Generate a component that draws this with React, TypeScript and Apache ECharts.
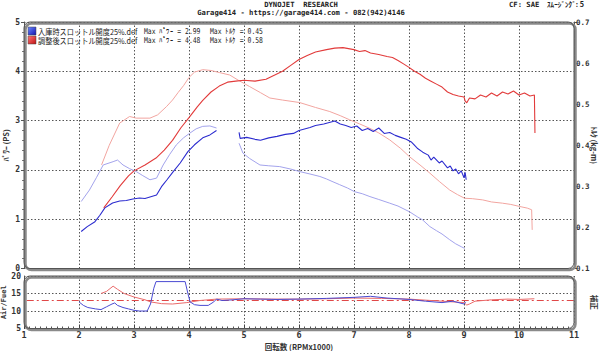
import React, { useEffect, useRef } from "react";
import * as echarts from "echarts";

// ---------- data ----------
const beforeName = "入庫時スロットル開度25%.def";
const afterName = "調整後スロットル開度25%.def";
const beforeMaxPower = "2.99";
const beforeMaxTorque = "0.45";
const afterMaxPower = "4.48";
const afterMaxTorque = "0.58";

// power (PS) vs rpm x1000 — before tuning (two runs with a gap)
const beforePowerA: [number, number][] = [
  [2.04, 0.75], [2.15, 0.85], [2.29, 0.95], [2.38, 1.08], [2.47, 1.23], [2.61, 1.33],
  [2.74, 1.37], [2.86, 1.38], [2.98, 1.41], [3.1, 1.43], [3.2, 1.42], [3.29, 1.45],
  [3.41, 1.49], [3.5, 1.66], [3.6, 1.8], [3.71, 1.96], [3.84, 2.14], [3.98, 2.37],
  [4.1, 2.51], [4.25, 2.65], [4.38, 2.71], [4.5, 2.8],
];
const beforePowerB: [number, number][] = [
  [4.91, 2.76], [4.93, 2.64], [5.05, 2.66], [5.2, 2.62], [5.3, 2.6], [5.45, 2.65],
  [5.6, 2.68], [5.75, 2.72], [5.9, 2.74], [6.0, 2.8], [6.1, 2.83], [6.2, 2.86],
  [6.3, 2.9], [6.45, 2.93], [6.55, 2.96], [6.65, 2.99], [6.75, 2.93], [6.85, 2.9],
  [6.95, 2.86], [7.05, 2.89], [7.15, 2.8], [7.25, 2.84], [7.35, 2.78], [7.45, 2.85],
  [7.55, 2.74], [7.65, 2.76], [7.75, 2.7], [7.85, 2.66], [7.95, 2.62], [8.05, 2.56],
  [8.15, 2.44], [8.25, 2.36], [8.35, 2.3], [8.4, 2.2], [8.45, 2.26], [8.55, 2.14],
  [8.6, 2.18], [8.7, 2.04], [8.75, 2.08], [8.8, 1.98], [8.85, 2.02], [8.9, 1.92],
  [8.95, 1.98], [9.0, 1.84], [9.02, 1.95], [9.04, 1.8],
];
// power after tuning
const afterPower: [number, number][] = [
  [2.45, 1.23], [2.6, 1.45], [2.75, 1.68], [2.9, 1.88], [3.0, 1.98], [3.2, 2.1],
  [3.4, 2.24], [3.55, 2.4], [3.7, 2.6], [3.85, 2.85], [4.0, 3.06], [4.15, 3.28],
  [4.25, 3.41], [4.4, 3.58], [4.55, 3.7], [4.7, 3.78], [4.85, 3.8], [5.0, 3.82],
  [5.2, 3.8], [5.4, 3.84], [5.55, 3.92], [5.7, 4.0], [5.85, 4.12], [6.0, 4.24],
  [6.15, 4.32], [6.3, 4.39], [6.5, 4.44], [6.65, 4.47], [6.8, 4.48], [6.9, 4.46],
  [7.0, 4.44], [7.1, 4.4], [7.2, 4.42], [7.3, 4.37], [7.45, 4.34], [7.6, 4.3],
  [7.7, 4.28], [7.8, 4.22], [7.9, 4.15], [8.0, 4.08], [8.1, 4.0], [8.2, 3.94],
  [8.3, 3.86], [8.4, 3.8], [8.5, 3.74], [8.6, 3.68], [8.7, 3.58], [8.8, 3.53],
  [8.9, 3.5], [9.0, 3.48], [9.02, 3.4], [9.05, 3.36], [9.1, 3.46], [9.2, 3.44],
  [9.3, 3.52], [9.4, 3.48], [9.5, 3.56], [9.6, 3.5], [9.7, 3.58], [9.8, 3.54],
  [9.9, 3.6], [10.0, 3.52], [10.1, 3.56], [10.2, 3.5], [10.28, 3.52], [10.29, 2.75],
];

// torque (kg-m)
const beforeTorqueA: [number, number][] = [
  [2.04, 0.263], [2.19, 0.291], [2.32, 0.322], [2.44, 0.352], [2.62, 0.36], [2.7, 0.364],
  [2.8, 0.352], [2.92, 0.343], [3.04, 0.336], [3.16, 0.326], [3.29, 0.316], [3.41, 0.32],
  [3.53, 0.352], [3.65, 0.378], [3.77, 0.401], [3.9, 0.418], [4.01, 0.429], [4.13, 0.44],
  [4.25, 0.446], [4.38, 0.447], [4.5, 0.442],
];
const beforeTorqueB: [number, number][] = [
  [4.91, 0.405], [4.98, 0.381], [5.1, 0.368], [5.29, 0.352], [5.45, 0.35], [5.65, 0.348],
  [5.85, 0.342], [6.01, 0.336], [6.2, 0.33], [6.38, 0.324], [6.5, 0.318], [6.6, 0.312],
  [6.74, 0.304], [6.88, 0.296], [7.01, 0.287], [7.15, 0.282], [7.29, 0.275], [7.45, 0.268],
  [7.65, 0.259], [7.8, 0.252], [8.01, 0.238], [8.15, 0.226], [8.25, 0.218], [8.38, 0.202],
  [8.5, 0.192], [8.6, 0.184], [8.74, 0.17], [8.85, 0.16], [8.95, 0.153], [9.01, 0.149],
];
const afterTorque: [number, number][] = [
  [2.41, 0.352], [2.55, 0.4], [2.74, 0.454], [2.92, 0.47], [3.04, 0.466], [3.29, 0.466],
  [3.43, 0.474], [3.59, 0.494], [3.7, 0.51], [3.8, 0.528], [3.9, 0.545], [4.0, 0.565],
  [4.1, 0.578], [4.25, 0.584], [4.4, 0.582], [4.55, 0.577], [4.74, 0.571], [4.9, 0.558],
  [5.1, 0.543], [5.3, 0.528], [5.47, 0.515], [5.7, 0.51], [6.01, 0.504], [6.3, 0.492],
  [6.56, 0.482], [6.75, 0.472], [6.92, 0.462], [7.1, 0.452], [7.29, 0.441], [7.45, 0.43],
  [7.65, 0.413], [7.85, 0.392], [8.01, 0.372], [8.2, 0.352], [8.38, 0.332], [8.55, 0.312],
  [8.74, 0.291], [8.88, 0.28], [9.01, 0.271], [9.15, 0.27], [9.34, 0.267], [9.5, 0.262],
  [9.7, 0.259], [9.85, 0.256], [10.01, 0.251], [10.15, 0.247], [10.23, 0.243], [10.24, 0.194],
];

// air/fuel ratio
const beforeAfr: [number, number][] = [
  [2.0, 12.6], [2.08, 11.6], [2.16, 11.0], [2.3, 10.6], [2.4, 10.4], [2.5, 11.2],
  [2.6, 12.0], [2.65, 12.3], [2.7, 11.6], [2.8, 11.0], [2.9, 10.6], [3.0, 10.2],
  [3.1, 10.0], [3.24, 10.0], [3.3, 12.0], [3.36, 16.5], [3.4, 18.4], [3.93, 18.4],
  [3.98, 15.0], [4.02, 12.6], [4.1, 11.8], [4.2, 11.6], [4.35, 11.6], [4.45, 12.6],
  [4.5, 13.4], [4.6, 13.0], [4.8, 13.2], [5.0, 13.5], [5.3, 13.4], [5.6, 13.3],
  [6.0, 13.4], [6.5, 13.6], [7.0, 13.9], [7.3, 14.2], [7.6, 13.7], [8.0, 13.3],
  [8.3, 12.8], [8.6, 12.4], [8.8, 12.8], [9.0, 12.0], [9.03, 12.6],
];
const afterAfr: [number, number][] = [
  [2.4, 15.0], [2.5, 15.6], [2.62, 17.1], [2.7, 16.2], [2.82, 15.0], [3.0, 14.0],
  [3.2, 13.2], [3.3, 12.6], [3.5, 12.1], [3.7, 12.0], [3.96, 12.4], [4.2, 13.0],
  [4.5, 13.4], [5.0, 13.5], [5.5, 13.4], [6.0, 13.4], [6.5, 13.5], [7.0, 13.7],
  [7.5, 13.6], [8.0, 13.4], [8.5, 12.9], [8.8, 12.6], [9.0, 12.4], [9.05, 11.7],
  [9.1, 12.0], [9.2, 12.8], [9.5, 13.2], [9.8, 13.4], [10.0, 13.3], [10.28, 13.5],
];
const targetAfr = 13;
const rpmRange = [1, 11];

// ---------- styles ----------
const darkBlue = "#2b2bcf";
const lightBlue = "#a3a3ec";
const darkRed = "#e23b3b";
const lightRed = "#f2a5a0";
const gridLineColor = "#555";
const labelStyle = {
  color: "#333",
  fontFamily: "DejaVu Sans Mono",
  fontWeight: "bold" as const,
  fontSize: 8,
};
const nameStyle = {
  color: "#333",
  fontFamily: "Noto Sans CJK JP",
  fontWeight: "bold" as const,
  fontSize: 7.5,
};
const dotted = { show: true, lineStyle: { color: gridLineColor, type: [1.5, 2], width: 1 } };

function lineSeries(name: string, data: [number, number][], color: string, xi: number, yi: number, width = 1) {
  return {
    type: "line",
    name,
    data,
    xAxisIndex: xi,
    yAxisIndex: yi,
    symbol: "none",
    lineStyle: { color, width },
    itemStyle: { color },
    z: 5,
  };
}

function boxes() {
  const mk = (x: number, y: number, w: number, h: number) => [
    {
      type: "rect",
      shape: { x: x + 1.5, y: y + 1.5, width: w, height: h, r: 6 },
      style: { fill: "none", stroke: "#8a8a8a", lineWidth: 2.5 },
      z: 20,
      silent: true,
    },
    {
      type: "rect",
      shape: { x, y, width: w, height: h, r: 6 },
      style: { fill: "none", stroke: "#555", lineWidth: 1 },
      z: 21,
      silent: true,
    },
  ];
  return [...mk(24, 22, 550, 246.5), ...mk(24, 276, 550, 52.5)];
}

function swatch(y: number, c1: string, c2: string) {
  return {
    type: "rect",
    shape: { x: 28, y, width: 8, height: 8 },
    style: {
      fill: new echarts.graphic.LinearGradient(0, 0, 1, 1, [
        { offset: 0, color: c1 },
        { offset: 1, color: c2 },
      ]),
      stroke: "#444",
      lineWidth: 0.5,
    },
    z: 30,
  };
}

function txt(x: number, y: number, text: string, extra: any = {}, scaleX = 1) {
  return {
    type: "text",
    x,
    y,
    scaleX,
    z: 30,
    style: {
      text,
      fill: "#222",
      fontSize: 8,
      fontFamily: "Noto Sans CJK JP",
      verticalAlign: "middle",
      ...extra,
    },
  };
}

export default function App() {
  const ref = useRef<HTMLDivElement>(null);
  useEffect(() => {
    const chart = echarts.init(ref.current!, null, { renderer: "svg" });
    const header = { fontFamily: "DejaVu Sans Mono", fontWeight: "bold", fontSize: 7.2, fill: "#222" };
    const maxStyle = { fontFamily: "DejaVu Sans Mono", fontSize: 8 };
    chart.setOption({
      animation: false,
      backgroundColor: "#fff",
      grid: [
        { left: 24, top: 22, width: 550, height: 246.5, outerBoundsMode: "none", containLabel: false },
        { left: 24, top: 276, width: 550, height: 52.5, outerBoundsMode: "none", containLabel: false },
      ],
      xAxis: [
        {
          type: "value",
          gridIndex: 0,
          min: rpmRange[0],
          max: rpmRange[1],
          interval: 1,
          axisLabel: { show: false },
          axisLine: { show: false },
          axisTick: { show: false },
          splitLine: dotted,
        },
        {
          type: "value",
          gridIndex: 1,
          min: rpmRange[0],
          max: rpmRange[1],
          interval: 1,
          axisLabel: { ...labelStyle, fontSize: 8.5, margin: 2 },
          axisLine: { show: false },
          axisTick: { show: true, inside: true, length: 4, lineStyle: { color: "#444" } },
          minorTick: { show: true, splitNumber: 10, length: 2, lineStyle: { color: "#555" } },
          splitLine: dotted,
          name: "回転数 (RPMx1000)",
          nameLocation: "middle",
          nameGap: 14,
          nameMoveOverlap: false,
          nameTextStyle: nameStyle,
        },
      ],
      yAxis: [
        {
          type: "value",
          gridIndex: 0,
          position: "left",
          min: 0,
          max: 5,
          interval: 1,
          axisLabel: { ...labelStyle, margin: 4 },
          axisLine: { show: true, lineStyle: { color: "#555" } },
          axisTick: { show: true, length: 3, lineStyle: { color: "#555" } },
          minorTick: { show: true, splitNumber: 5, length: 2, lineStyle: { color: "#777" } },
          splitLine: dotted,
          name: "ﾊﾟﾜｰ (PS)",
          nameLocation: "middle",
          nameRotate: 90,
          nameGap: 15,
          nameMoveOverlap: false,
          nameTextStyle: nameStyle,
        },
        {
          type: "value",
          gridIndex: 0,
          position: "right",
          min: 0.1,
          max: 0.7,
          interval: 0.1,
          axisLabel: { ...labelStyle, fontSize: 7.5, margin: 2, formatter: (v: number) => v.toFixed(1) },
          axisLine: { show: true, lineStyle: { color: "#555" } },
          axisTick: { show: true, length: 3, lineStyle: { color: "#555" } },
          minorTick: { show: true, splitNumber: 5, length: 2, lineStyle: { color: "#777" } },
          splitLine: { show: false },
          name: "ﾄﾙｸ (kg-m)",
          nameLocation: "middle",
          nameRotate: -90,
          nameGap: 16.5,
          nameMoveOverlap: false,
          nameTextStyle: nameStyle,
        },
        {
          type: "value",
          gridIndex: 1,
          position: "left",
          min: 5,
          max: 20,
          interval: 5,
          axisLabel: { ...labelStyle, margin: 3 },
          axisLine: { show: true, lineStyle: { color: "#555" } },
          axisTick: { show: false },
          splitLine: dotted,
          name: "Air/Fuel",
          nameLocation: "middle",
          nameRotate: 90,
          nameGap: 17,
          nameMoveOverlap: false,
          nameTextStyle: { ...nameStyle, fontFamily: "DejaVu Sans Mono", fontSize: 7 },
        },
        {
          type: "value",
          gridIndex: 1,
          position: "right",
          min: 5,
          max: 20,
          interval: 5,
          axisLabel: { show: false },
          axisLine: { show: false },
          axisTick: { show: false },
          splitLine: { show: false },
          name: "補正",
          nameLocation: "middle",
          nameRotate: -90,
          nameGap: 16.5,
          nameMoveOverlap: false,
          nameTextStyle: nameStyle,
        },
      ],
      series: [
        lineSeries(beforeName, beforeTorqueA, lightBlue, 0, 1),
        lineSeries(beforeName, beforeTorqueB, lightBlue, 0, 1),
        lineSeries(afterName, afterTorque, lightRed, 0, 1),
        lineSeries(beforeName, beforePowerA, darkBlue, 0, 0, 1.1),
        lineSeries(beforeName, beforePowerB, darkBlue, 0, 0, 1.1),
        lineSeries(afterName, afterPower, darkRed, 0, 0, 1.1),
        {
          type: "line",
          name: "target",
          xAxisIndex: 1,
          yAxisIndex: 2,
          symbol: "none",
          data: [[rpmRange[0] + 0.05, targetAfr], [rpmRange[1], targetAfr]],
          lineStyle: { color: "#e04848", width: 1, type: [7, 3, 2, 3] },
          z: 4,
        },
        lineSeries(afterName, afterAfr, "#ea6a6a", 1, 2),
        lineSeries(beforeName, beforeAfr, "#4a4ad2", 1, 2),
      ],
      graphic: [
        ...boxes(),
        swatch(27, "#6f8dff", "#1010b0"),
        swatch(36, "#ff7a7a", "#c01010"),
        txt(38, 31, beforeName, {}, 0.9),
        txt(144, 31, `Max ﾊﾟﾜｰ = ${beforeMaxPower}`, maxStyle, 0.8),
        txt(210, 31, `Max ﾄﾙｸ = ${beforeMaxTorque}`, maxStyle, 0.8),
        txt(38, 40, afterName, {}, 0.9),
        txt(144, 40, `Max ﾊﾟﾜｰ = ${afterMaxPower}`, maxStyle, 0.8),
        txt(210, 40, `Max ﾄﾙｸ = ${afterMaxTorque}`, maxStyle, 0.8),
        txt(301, 4, "DYNOJET  RESEARCH", { ...header, align: "center" }),
        txt(301, 12, "Garage414 - https://garage414.com - 082(942)4146", { ...header, align: "center" }),
        txt(509, 4, "CF: SAE", header),
        txt(547, 4, "ｽﾑｰｼﾞﾝｸﾞ: 5", { ...header, fontFamily: "Noto Sans CJK JP" }),
      ],
    });
    return () => chart.dispose();
  }, []);
  return (
    <div
      ref={ref}
      style={{ position: "fixed", left: 0, top: 0, width: 600, height: 351, background: "#fff" }}
    />
  );
}
